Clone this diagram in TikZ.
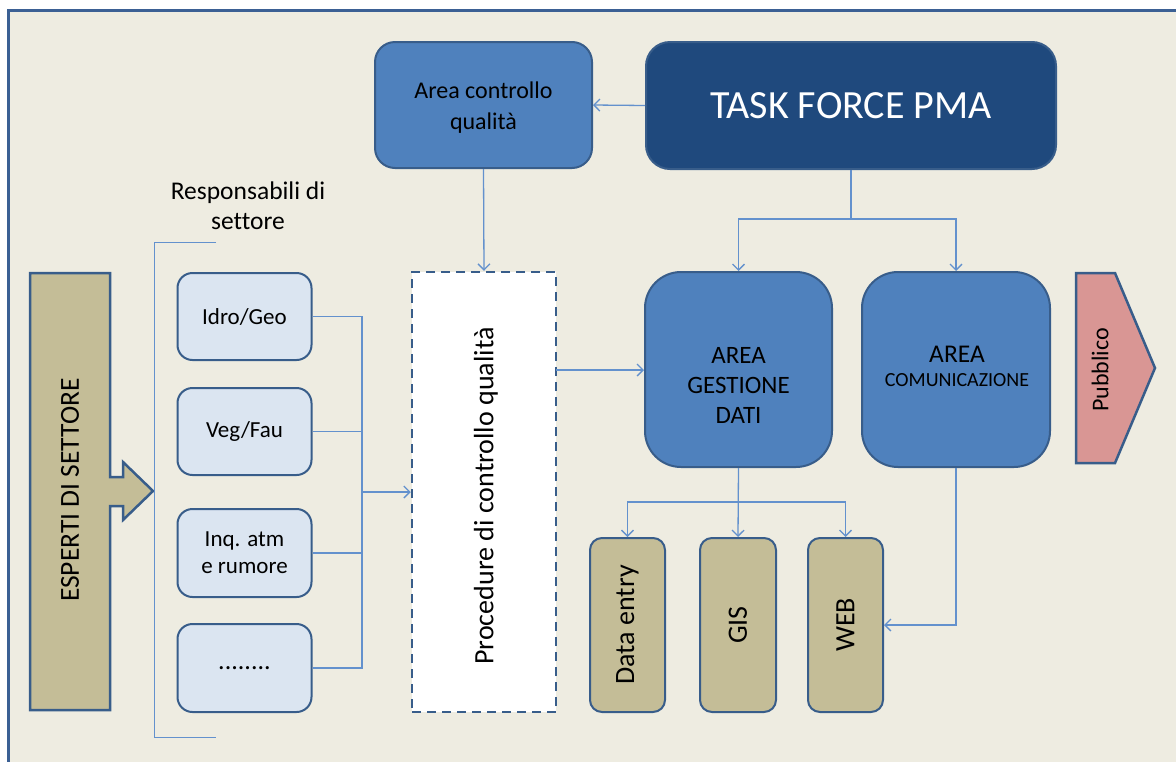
\documentclass[tikz,border=0pt]{standalone}
\usepackage{fontspec}
\setmainfont{Carlito}[Ligatures=NoCommon]
\usetikzlibrary{arrows.meta}
\definecolor{figBg}{RGB}{238,236,225}
\definecolor{figFrame}{RGB}{59,96,148}
\definecolor{figEdge}{RGB}{56,93,138}
\definecolor{figMid}{RGB}{79,129,189}
\definecolor{figDark}{RGB}{31,73,125}
\definecolor{figLight}{RGB}{219,229,241}
\definecolor{figTan}{RGB}{196,189,151}
\definecolor{figPink}{RGB}{217,150,148}
\definecolor{figLine}{RGB}{99,145,205}
\newcommand{\figfont}[2]{\fontsize{#1}{#2}\selectfont}
\tikzset{box/.style={draw=figEdge, line width=2pt, align=center, inner sep=0pt},
  conn/.style={figLine, line width=1.3pt},
  arr/.style={conn, -{Straight Barb[length=6pt,width=12pt]}}}

\begin{document}
\begin{tikzpicture}[x=1pt,y=-1pt]
\useasboundingbox (0,0) rectangle (1176,761);
% frame of the slide, open at right and bottom
\fill[figBg] (8,10) rectangle (1190,775);
\draw[figFrame, line width=3pt] (1190,10) -- (8,10) -- (8,775);
% top row
\node[box, fill=figMid, rounded corners=20pt, minimum width=217pt, minimum height=126pt] (acq) at (483.5,105) {};
\node[align=center, font=\figfont{24}{31}] (acqtxt) at (483.5,108) {Area controllo\\qualità};
\node[box, fill=figDark, rounded corners=24pt, minimum width=410pt, minimum height=127pt, text=white, font=\figfont{40}{44}] (tf) at (851,105.5) {TASK FORCE PMA};
% left: experts arrow and sector boxes
\filldraw[fill=figTan, draw=figEdge, line width=2.5pt] (30,273) -- (110,273) -- (110,477) -- (123,477) -- (123,462) -- (153,491) -- (123,520) -- (123,506) -- (110,506) -- (110,710) -- (30,710) -- cycle;
\node[rotate=90, font=\figfont{27.5}{30}] (esp) at (70,490) {ESPERTI DI SETTORE};
\node[align=center, font=\figfont{25.5}{30}] (resp) at (248,206) {Responsabili di\\settore};
\draw[figLine, line width=1pt] (216,242) -- (154,242) -- (154,737) -- (216,737);
\node[box, fill=figLight, rounded corners=15pt, minimum width=134pt, minimum height=87pt, font=\figfont{23}{27}] (idro) at (244.5,316.5) {Idro/Geo};
\node[box, fill=figLight, rounded corners=15pt, minimum width=134pt, minimum height=87pt, font=\figfont{23}{27}] (veg) at (244.5,431.5) {Veg/Fau};
\node[box, fill=figLight, rounded corners=15pt, minimum width=134pt, minimum height=88pt, font=\figfont{23}{27}] (inq) at (244.5,553) {Inq. atm\\e rumore};
\node[box, fill=figLight, rounded corners=15pt, minimum width=134pt, minimum height=88pt, font=\figfont{26}{27}] (dots) at (244.5,668) {........};
% collector into the quality procedures
\coordinate (bus) at (362,492);
\draw[conn] (idro.east) -| (bus);
\draw[conn] (veg.east) -| (bus);
\draw[conn] (inq.east) -| (bus);
\draw[conn] (dots.east) -| (bus);
\node[box, fill=white, dashed, dash pattern=on 9pt off 6pt, line width=2.5pt, minimum width=144pt, minimum height=440pt] (proc) at (484,492) {};
\node[rotate=90, font=\figfont{28}{30}] (proctxt) at (486,496) {Procedure di controllo qualità};
\draw[arr] (bus) -- (proc.west);
\draw[arr] (acq.south) -- (proc.north);
\draw[arr] (tf.west) -- (acq.east);
% areas
\node[box, fill=figMid, rounded corners=36pt, minimum width=187pt, minimum height=195pt] (agd) at (738.5,369.5) {};
\node[align=center, font=\figfont{25}{30}] (agdtxt) at (738.5,385) {AREA\\GESTIONE\\DATI};
\node[box, fill=figMid, rounded corners=36pt, minimum width=188pt, minimum height=195pt] (acom) at (956,369.5) {};
\node[font=\figfont{25.5}{30}] (acomtop) at (957,354) {AREA};
\node[font=\figfont{20}{24}] (acombot) at (957,380) {COMUNICAZIONE};
\coordinate (tfsplit) at (851,219);
\draw[conn] (tf.south) -- (tfsplit);
\draw[arr] (tfsplit) -| (agd.north);
\draw[arr] (tfsplit) -| (acom.north);
\coordinate (qout) at (556,370);
\draw[arr] (qout) -- (qout -| agd.west);
% public
\filldraw[fill=figPink, draw=figEdge, line width=2.5pt] (1076,273) -- (1115,273) -- (1155,368) -- (1115,463) -- (1076,463) -- cycle;
\node[rotate=90, font=\figfont{24}{26}] (pub) at (1100,370) {Pubblico};
% tools
\node[box, fill=figTan, rounded corners=12pt, minimum width=75pt, minimum height=174pt] (dentry) at (627.5,625) {};
\node[rotate=90, font=\figfont{28}{30}] (dentrytxt) at (dentry.center) {Data entry};
\node[box, fill=figTan, rounded corners=12pt, minimum width=76pt, minimum height=174pt] (gis) at (738,625) {};
\node[rotate=90, font=\figfont{28}{30}] (gistxt) at (gis.center) {GIS};
\node[box, fill=figTan, rounded corners=12pt, minimum width=75pt, minimum height=174pt] (web) at (845.5,625) {};
\node[rotate=90, font=\figfont{28}{30}] (webtxt) at (web.center) {WEB};
\coordinate (gsplit) at (738,502);
\draw[arr] (agd.south) -- (gis.north);
\draw[arr] (gsplit) -| (dentry.north);
\draw[arr] (gsplit) -| (web.north);
\draw[arr] (acom.south) |- (web.east);
\end{tikzpicture}
\end{document}
